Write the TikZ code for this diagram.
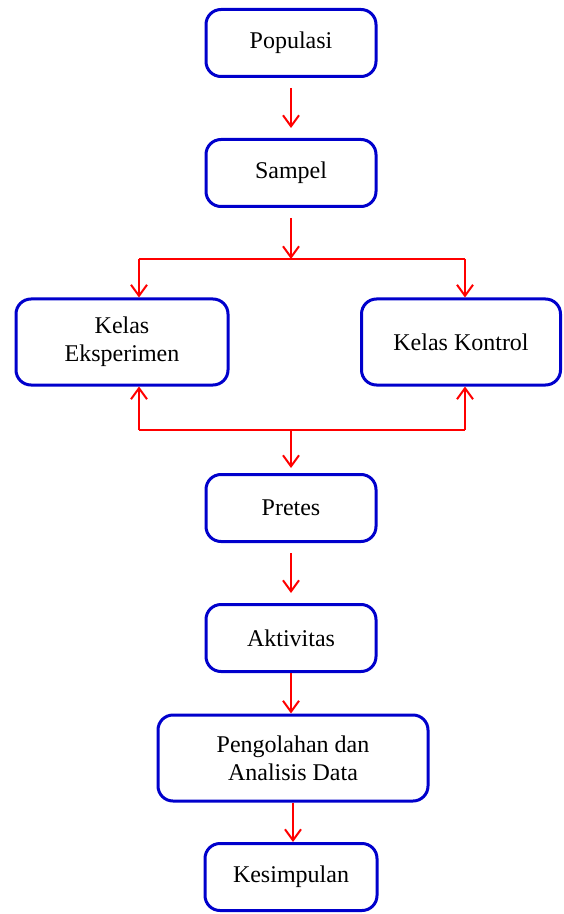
\documentclass[tikz,border=0pt]{standalone}
\usepackage{fontspec}
\setmainfont{Liberation Serif}
\usetikzlibrary{calc,arrows.meta}

\begin{document}
\begin{tikzpicture}[x=0.5pt,y=-0.5pt,
		every node/.style = {font=\fontsize{12}{14}\selectfont},
		kotak/.style args = {#1/#2}{%
			draw=blue!80!black, line width=1.5pt, rounded corners=7.5pt,
			fill=white, align=center,
			minimum width=#1pt, minimum height=#2pt, inner sep=2pt},
		panah/.style = {draw=red, line width=1pt,
			-{Straight Barb[length=5.5pt,width=8pt]}},
		garis/.style = {draw=red, line width=1pt}
		]
		\useasboundingbox (0,0) rectangle (563,914);
		\node (pop) [kotak=85/33.5] at (291,43) {Populasi};
		\node (smp) [kotak=85/33.5] at (291,173) {Sampel};
		\node (eks) [kotak=106/43] at (122,342) {Kelas\\Eksperimen};
		\node (kon) [kotak=99.5/43] at (461,342) {Kelas Kontrol};
		\node (pre) [kotak=85/33.5] at (291,508) {Pretes};
		\node (akt) [kotak=85/33.5] at (291,638) {Aktivitas};
		\node (olah) [kotak=135/43] at (293,758) {Pengolahan dan\\Analisis Data};
		\node (kes) [kotak=86/33.5] at (291,877) {Kesimpulan};
		% titik cabang
		\coordinate (c1) at (291,259);
		\coordinate (c1l) at (139,259);
		\coordinate (c1r) at (465,259);
		\coordinate (c2) at (291,430);
		\coordinate (c2l) at (139,430);
		\coordinate (c2r) at (465,430);
		\draw[panah, shorten <=5pt, shorten >=5pt] (pop) -- (smp);
		\draw[panah, shorten <=5pt] (smp) -- (c1);
		\draw[garis] (c1l) -- (c1r);
		\draw[panah] (c1l) -- (c1l |- eks.north);
		\draw[panah] (c1r) -- (c1r |- kon.north);
		\draw[panah] (c2l) -- (c2l |- eks.south);
		\draw[panah] (c2r) -- (c2r |- kon.south);
		\draw[garis] (c2l) -- (c2r);
		\draw[panah, shorten >=2.5pt] (c2) -- (pre);
		\foreach \from/\to in {pre/akt}
		\draw[panah, shorten <=5pt, shorten >=5pt] (\from) -- (\to);
		\foreach \from/\to in {akt/olah, olah/kes}
		\draw[panah] (\from) -- (\from |- \to.north);
	\end{tikzpicture}
\end{document}
